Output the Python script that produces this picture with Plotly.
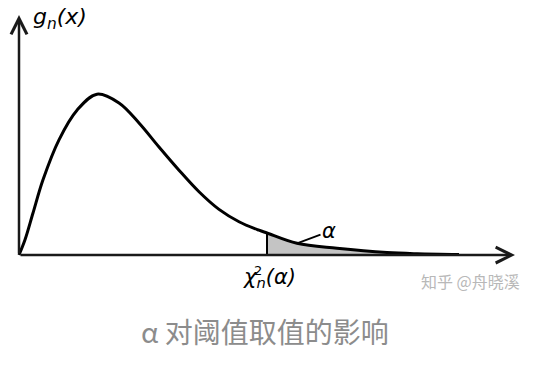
import plotly.graph_objects as go

# Curve values (arbitrary units)
x_vals = [0, 0.15, 0.35, 0.6, 1.0, 1.45, 1.95, 2.5, 3.0, 3.5, 4.0, 4.5,
          5.0, 5.5, 6.0, 6.2, 6.95, 7.95, 9.2, 9.95, 11.0]
y_vals = [0, 0.019, 0.0525, 0.094, 0.144, 0.181, 0.201, 0.19, 0.165, 0.135,
          0.106, 0.079, 0.057, 0.0416, 0.031, 0.0275, 0.0146, 0.0084, 0.003,
          0.0015, 0.0006]
cut_index = 15            # the critical value chi2_n(alpha)
x_axis_end = 12.4
y_axis_end = 0.3

W, H = 530, 366           # page body has an 8px margin
OFF = 8
ox, oy = 19 - OFF, 255 - OFF   # origin in figure pixels
sx, sy = 40, 800               # pixels per data unit

cut_x = x_vals[cut_index]
cut_y = y_vals[cut_index]
tail_x = [cut_x] + x_vals[cut_index:] + [x_vals[-1]]
tail_y = [0] + y_vals[cut_index:] + [0]

fig = go.Figure()
fig.add_trace(go.Scatter(x=tail_x, y=tail_y, mode="lines", fill="toself",
                         fillcolor="#c4c4c4", line=dict(width=0),
                         hoverinfo="skip"))
fig.add_trace(go.Scatter(x=x_vals, y=y_vals, mode="lines",
                         line=dict(color="#000000", width=3,
                                   shape="spline", smoothing=1.0)))
fig.add_trace(go.Scatter(x=[cut_x, cut_x], y=[0, cut_y], mode="lines",
                         line=dict(color="#000000", width=2)))


def px(x):
    return (x - OFF) / W


def py(y):
    return 1 - (y - OFF) / H


ann = []
# axes with open arrowheads
for tx, ty in [(x_axis_end, 0), (0, y_axis_end)]:
    ann.append(dict(x=tx, y=ty, ax=0, ay=0, xref="x", yref="y",
                    axref="x", ayref="y", text="", showarrow=True,
                    arrowhead=5, arrowsize=1.25, arrowwidth=2.5,
                    arrowcolor="#1a1a1a", standoff=0, startstandoff=0))
# alpha label with leader line
ann.append(dict(x=x_vals[cut_index + 1], y=y_vals[cut_index + 1],
                ax=7.75, ay=0.0295, xref="x", yref="y", axref="x", ayref="y",
                text="<i>α</i>", showarrow=True, arrowhead=0, arrowwidth=1.8,
                arrowcolor="#000000",
                font=dict(family="DejaVu Sans", size=21, color="#000000")))
# y label
ann.append(dict(x=0, y=y_axis_end, xref="x", yref="y", xanchor="left",
                yanchor="middle", xshift=12, yshift=-3,
                text="<i>g<sub>n</sub>(x)</i>", showarrow=False,
                font=dict(family="DejaVu Sans", size=22, color="#000000")))
# critical value label
ann.append(dict(x=cut_x, y=0, xref="x", yref="y", xanchor="center",
                yanchor="top", yshift=-8, xshift=2,
                text="<i>χ<sub>n</sub>(α)</i>", showarrow=False,
                font=dict(family="DejaVu Sans", size=21, color="#000000")))
ann.append(dict(x=cut_x, y=0, xref="x", yref="y", xanchor="center",
                yanchor="top", yshift=-6, xshift=-9,
                text="2", showarrow=False,
                font=dict(family="DejaVu Sans", size=13, color="#000000")))
# watermark
ann.append(dict(x=px(470), y=py(281), xref="paper", yref="paper",
                xanchor="center", yanchor="middle",
                text="知乎 @舟晓溪", showarrow=False,
                font=dict(family="Noto Sans CJK SC", size=16, color="#b8b8b8")))
# caption
ann.append(dict(x=px(265), y=py(331), xref="paper", yref="paper",
                xanchor="center", yanchor="middle",
                text="α 对阈值取值的影响", showarrow=False,
                font=dict(family="Noto Sans CJK SC", size=28, color="#8c8c8c")))

fig.update_layout(
    width=W, height=H,
    margin=dict(l=0, r=0, t=0, b=0),
    paper_bgcolor="white", plot_bgcolor="white",
    showlegend=False,
    xaxis=dict(visible=False, range=[-ox / sx, (W - ox) / sx]),
    yaxis=dict(visible=False, range=[(oy - H) / sy, oy / sy]),
    annotations=ann,
)
fig.write_html("out.html")
